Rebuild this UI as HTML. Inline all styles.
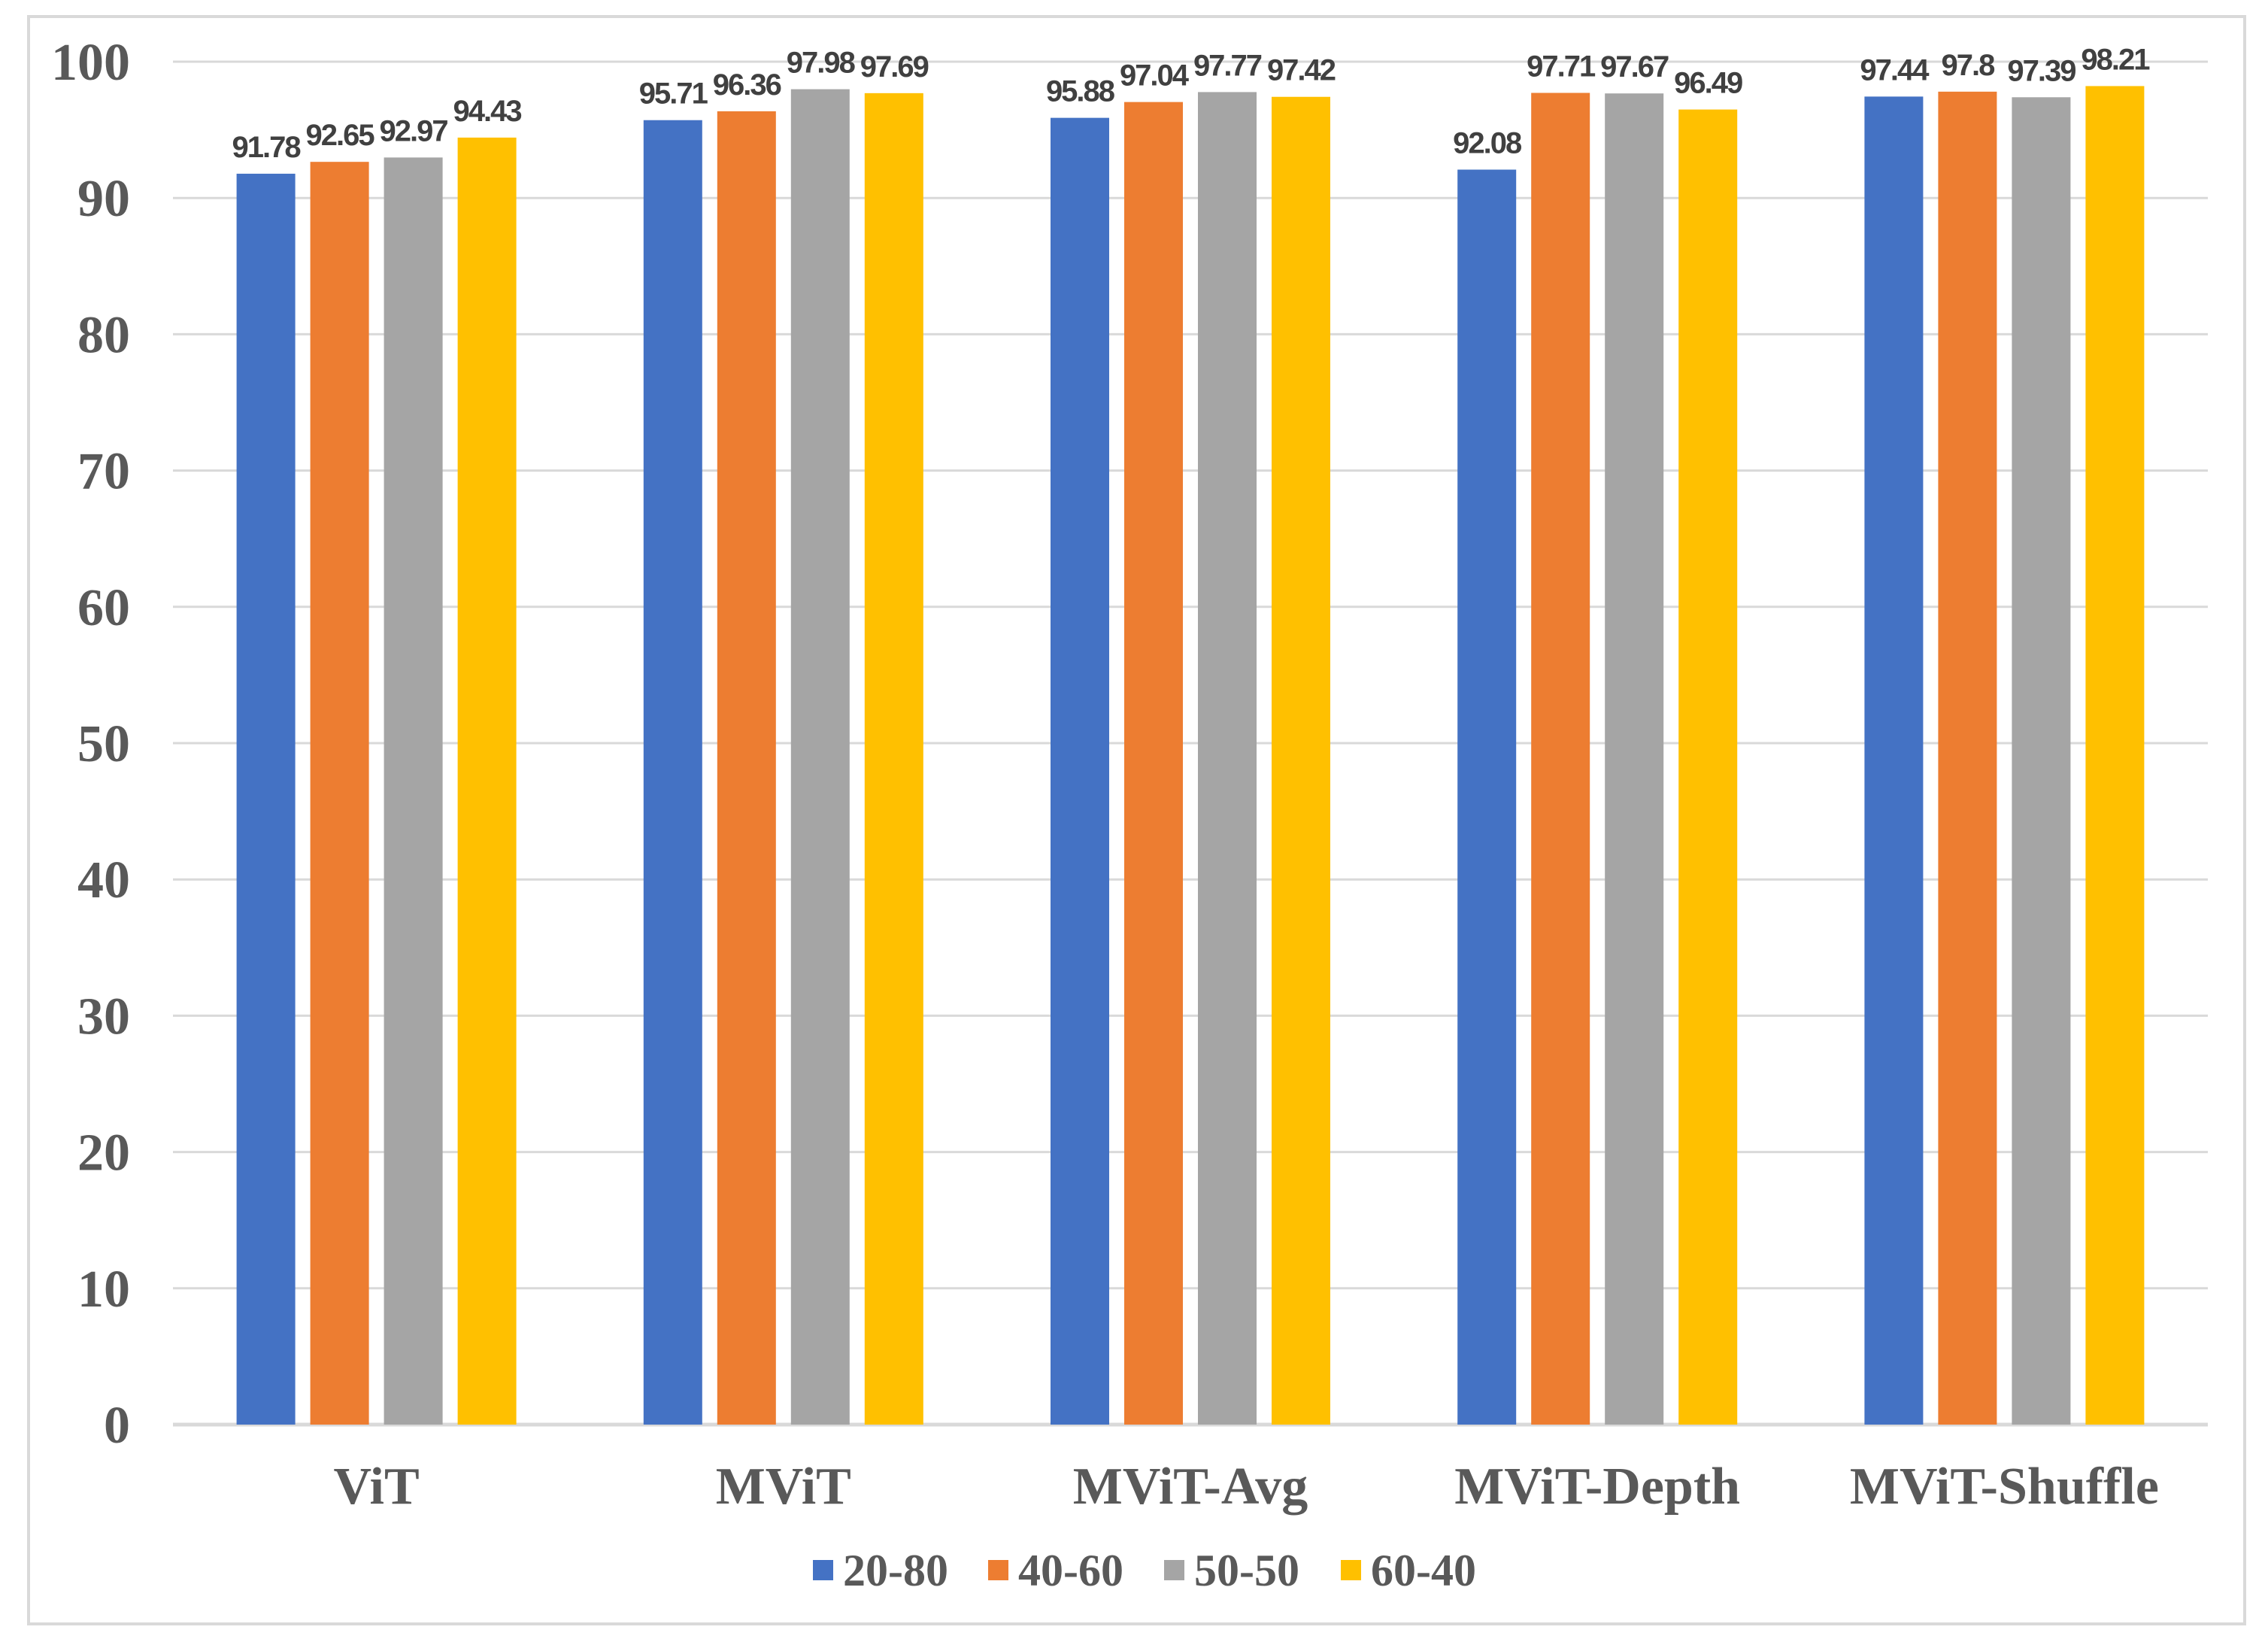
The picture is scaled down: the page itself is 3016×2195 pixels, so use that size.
<!DOCTYPE html>
<html><head><meta charset="utf-8"><style>
html,body{margin:0;padding:0;background:#fff;}
svg{display:block;}
</style></head><body>
<svg id="chart" width="3016" height="2195" viewBox="0 0 3016 2195" xmlns="http://www.w3.org/2000/svg">
<rect x="38" y="22" width="2947" height="2137" fill="#fff" stroke="#d9d9d9" stroke-width="4"/>
<g id="grid"></g><g id="bars"></g><g id="labels"></g><g id="legend"></g>
</svg>
<script>
const categories = ["ViT","MViT","MViT-Avg","MViT-Depth","MViT-Shuffle"];
const seriesNames = ["20-80","40-60","50-50","60-40"];
const s2080 = [91.78,95.71,95.88,92.08,97.44];
const s4060 = [92.65,96.36,97.04,97.71,97.8];
const s5050 = [92.97,97.98,97.77,97.67,97.39];
const s6040 = [94.43,97.69,97.42,96.49,98.21];
const yTicks = [0,10,20,30,40,50,60,70,80,90,100];
const colors = ["#4472c4","#ed7d31","#a5a5a5","#ffc000"];
const series = [s2080,s4060,s5050,s6040];
const NS="http://www.w3.org/2000/svg";
const X0=230,X1=2936,Y0=1894,Y100=82;
const y=v=>Y0-(v/100)*(Y0-Y100);
const catW=(X1-X0)/categories.length;
const barW=78,step=98;
const xc=i=>X0+catW*(i+0.5);
function mk(tag,attrs,parent){const e=document.createElementNS(NS,tag);for(const k in attrs)e.setAttribute(k,attrs[k]);parent.appendChild(e);return e;}
const grid=document.getElementById('grid'),bars=document.getElementById('bars'),labels=document.getElementById('labels'),legend=document.getElementById('legend');
yTicks.forEach(t=>{
  const l=mk('line',{x1:X0,x2:X1,y1:y(t),y2:y(t),stroke:'#d9d9d9','stroke-width':t===0?5:3},grid);
  
  
  const tx=mk('text',{x:173,y:y(t)+24,'text-anchor':'end','font-family':'"Liberation Serif",serif','font-weight':'bold','font-size':70,fill:'#595959'},grid);
  tx.textContent=t;
  
  
});
categories.forEach((c,i)=>{
  const tx=mk('text',{x:xc(i),y:1999,'text-anchor':'middle','font-family':'"Liberation Serif",serif','font-weight':'bold','font-size':70,fill:'#595959'},labels);
  tx.textContent=c;
  
  
  series.forEach((s,j)=>{
    const bx=xc(i)-2*step+(step-barW)/2+j*step;
    const r=mk('rect',{x:bx,y:y(s[i]),width:barW,height:Y0-y(s[i]),fill:colors[j]},bars);
    
    
    const v=mk('text',{x:bx+barW/2,y:y(s[i])-22,'text-anchor':'middle','font-family':'"Liberation Sans",sans-serif','font-weight':'bold','font-size':40,fill:'#404040','letter-spacing':'-2'},labels);
    v.textContent=s[i];
    
    
  });
});
const legX=[1081,1314,1548,1783];
seriesNames.forEach((n,j)=>{
  const r=mk('rect',{x:legX[j],y:2074,width:27,height:27,fill:colors[j]},legend);
  
  
  const t=mk('text',{x:legX[j]+40,y:2108,'font-family':'"Liberation Serif",serif','font-weight':'bold','font-size':60,fill:'#595959'},legend);
  t.textContent=n;
  
  
});
</script>
</body></html>
